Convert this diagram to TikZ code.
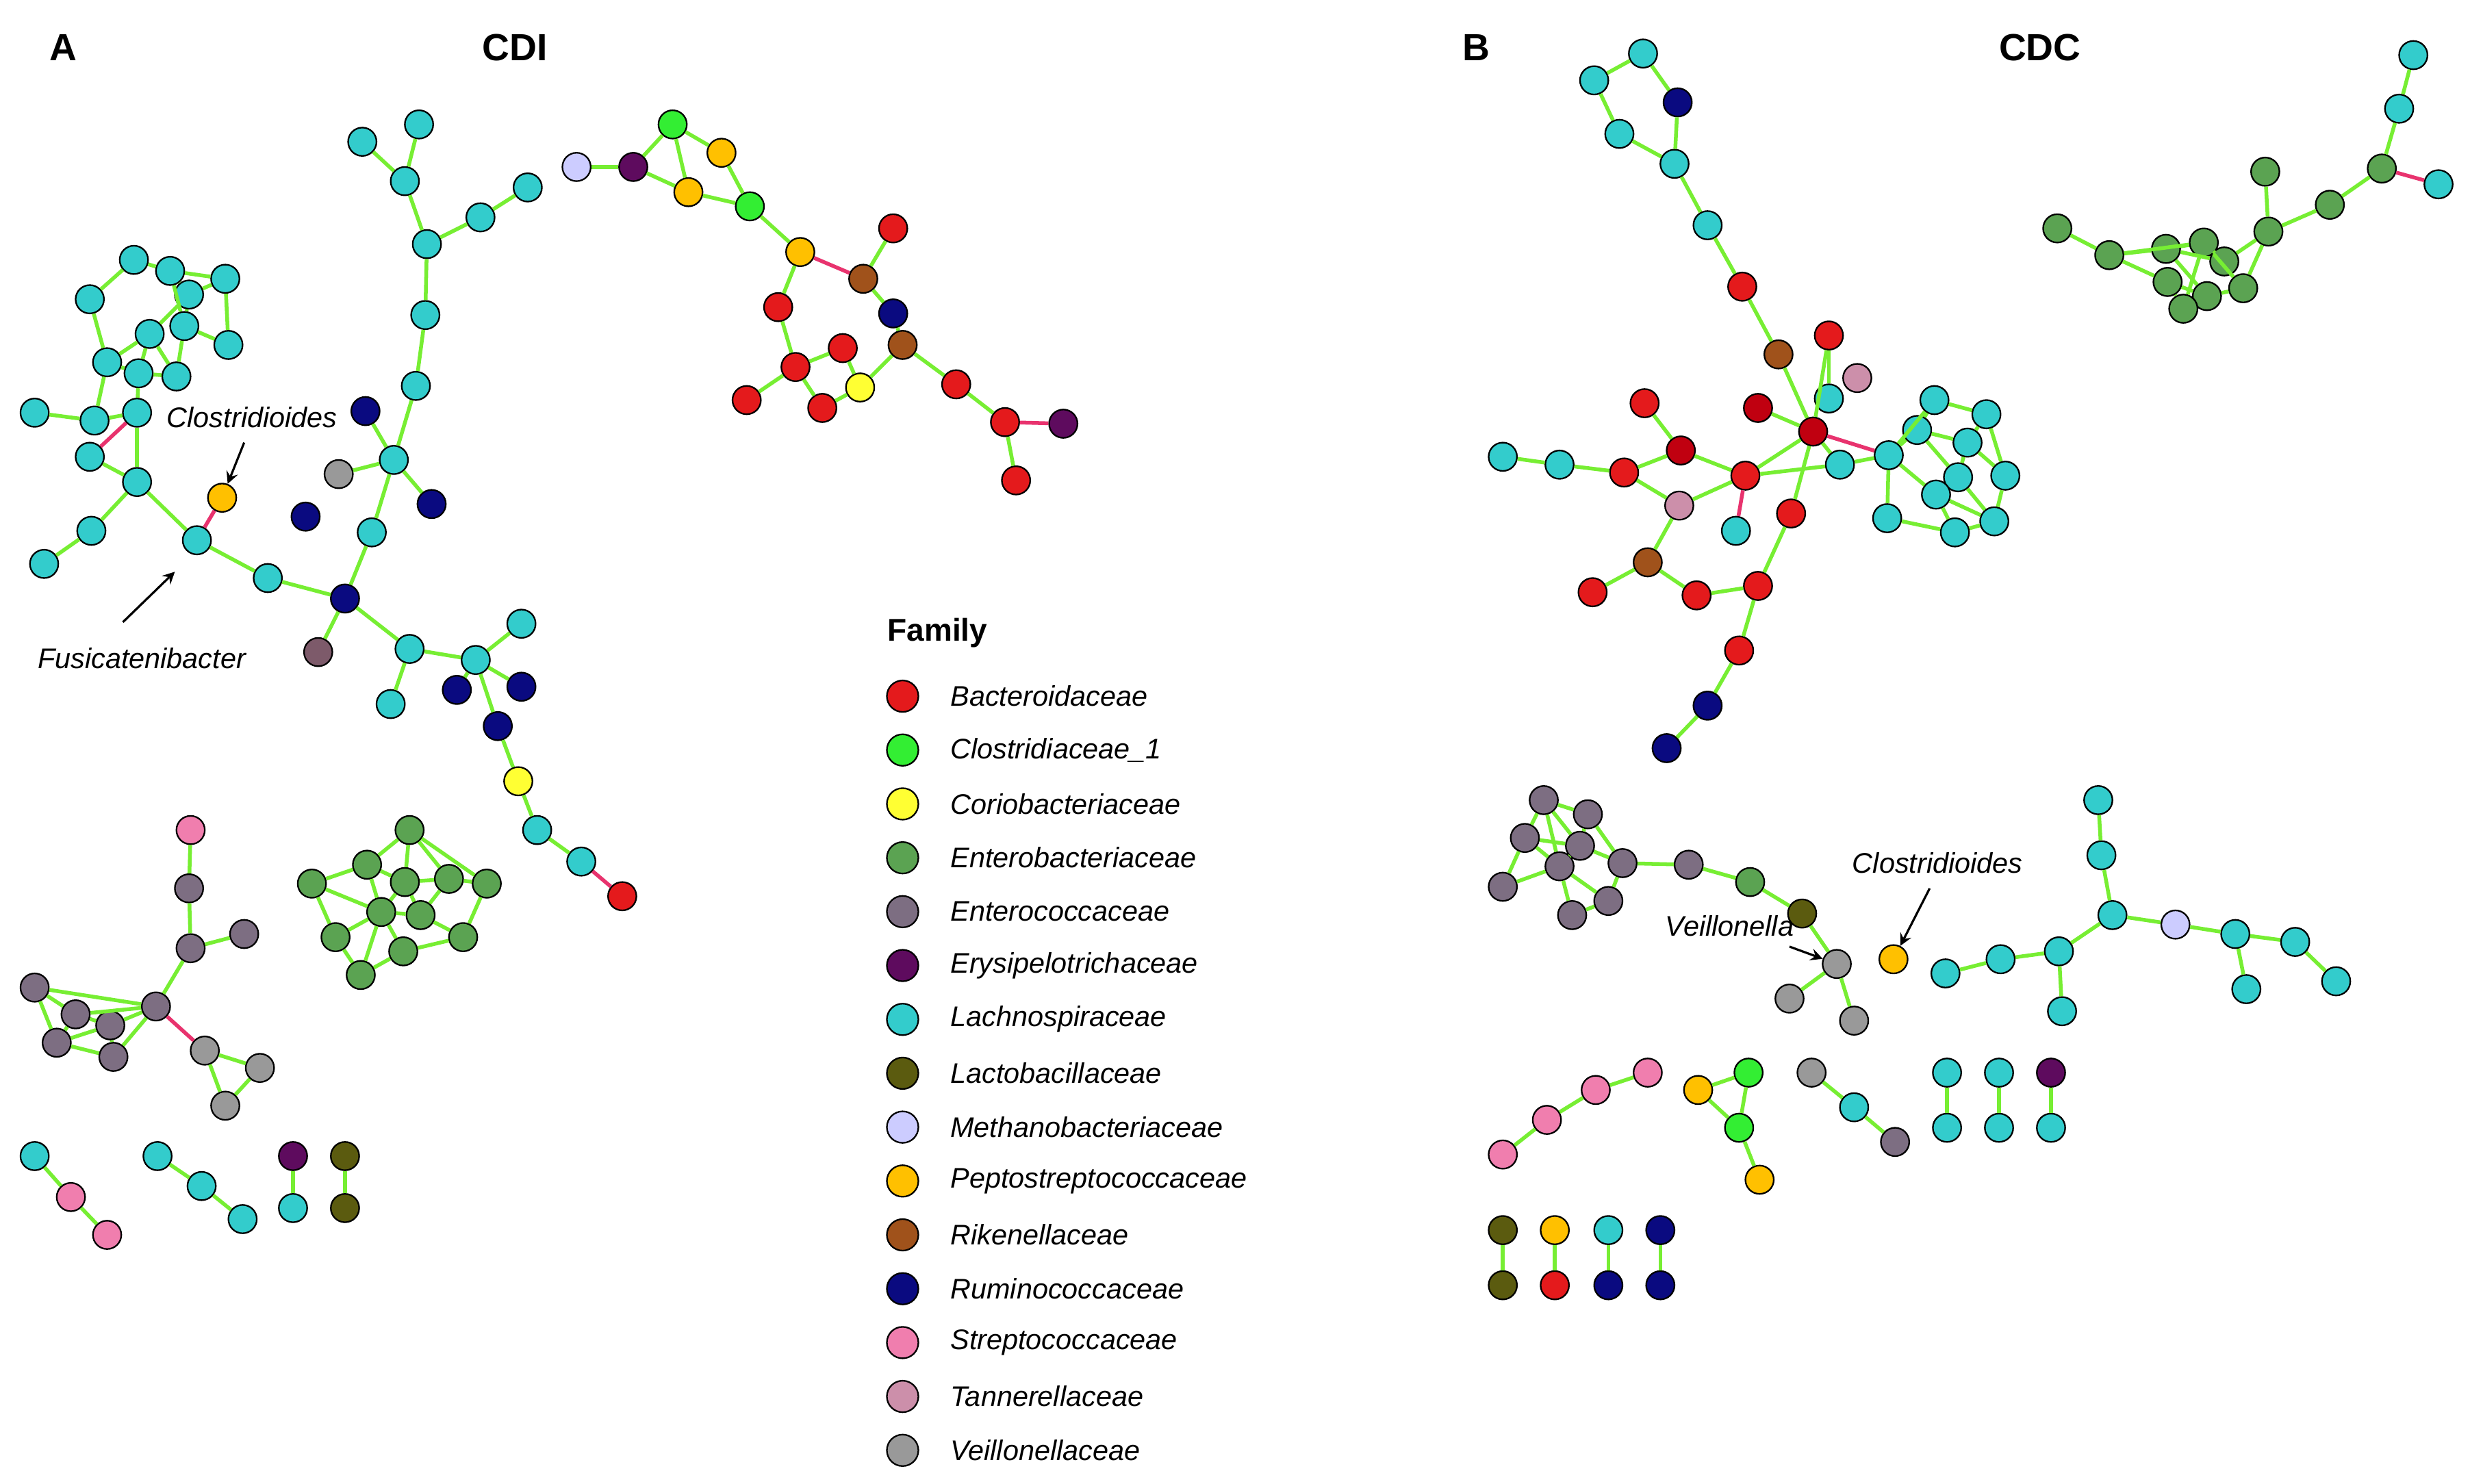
\documentclass[tikz,border=0pt]{standalone}
\usepackage{fontspec}
\setmainfont{Liberation Sans}
\definecolor{bac}{HTML}{E41A1C}\definecolor{bad}{HTML}{C00010}
\definecolor{clo}{HTML}{33EE33}
\definecolor{cor}{HTML}{FFFF33}
\definecolor{ent}{HTML}{5BA352}
\definecolor{enc}{HTML}{7D6E82}
\definecolor{ery}{HTML}{5E0B5E}
\definecolor{lac}{HTML}{33CCCC}
\definecolor{lbc}{HTML}{5B5B0F}
\definecolor{met}{HTML}{CCCCFF}
\definecolor{pep}{HTML}{FFC000}
\definecolor{rik}{HTML}{A0521B}
\definecolor{rum}{HTML}{0A0A80}
\definecolor{str}{HTML}{F07EAE}
\definecolor{tan}{HTML}{CC8FAA}
\definecolor{vei}{HTML}{999999}
\definecolor{enb}{HTML}{7D5A6A}
\definecolor{eg}{HTML}{77EE33}
\definecolor{ep}{HTML}{E8336E}
\tikzset{nd/.style={circle,draw=black,line width=0.5pt,minimum size=9pt,inner sep=0pt},
eg/.style={draw=eg,line width=1.2pt},ep/.style={draw=ep,line width=1.2pt},
lbl/.style={font=\fontsize{9}{10}\selectfont\itshape,inner sep=0pt},
ttl/.style={font=\fontsize{12}{13}\selectfont\bfseries,inner sep=0pt},
ar/.style={-stealth,line width=0.7pt}}
\newcommand\nd[4]{\node[nd,fill=#4] (#1) at (#2,-#3) {};}
\begin{document}
\begin{tikzpicture}[x=0.5pt,y=0.5pt]
\useasboundingbox (0,0) rectangle (1568,-942);
\node[ttl] (tA) at (40,-30) {A};\node[ttl] (tCDI) at (327,-30) {CDI};
\node[ttl] (tB) at (937,-30) {B};\node[ttl] (tCDC) at (1295,-30) {CDC};
% ---- Panel A
\nd{c1}{85}{165}{lac}\nd{c2}{57}{190}{lac}\nd{c3}{108}{172}{lac}\nd{c4}{143}{177}{lac}
\nd{c5}{120}{187}{lac}\nd{c6}{95}{212}{lac}\nd{c7}{117}{207}{lac}\nd{c8}{145}{219}{lac}
\nd{c9}{68}{230}{lac}\nd{c10}{88}{237}{lac}\nd{c11}{112}{239}{lac}\nd{c12}{22}{262}{lac}
\nd{c13}{60}{267}{lac}\nd{c14}{87}{262}{lac}\nd{c15}{57}{290}{lac}\nd{c16}{87}{306}{lac}
\nd{c17}{58}{337}{lac}\nd{c18}{28}{358}{lac}\nd{c19}{125}{343}{lac}\nd{pA1}{141}{316}{pep}
\nd{c20}{170}{367}{lac}\nd{r1}{219}{380}{rum}\nd{eb1}{202}{414}{enb}\nd{c21}{236}{338}{lac}
\nd{c22}{250}{292}{lac}\nd{v1}{215}{301}{vei}\nd{r2}{232}{261}{rum}\nd{r3}{274}{320}{rum}
\nd{c23}{264}{245}{lac}\nd{c24}{270}{200}{lac}\nd{c25}{271}{155}{lac}\nd{c26}{257}{115}{lac}
\nd{c27}{230}{90}{lac}\nd{c28}{266}{79}{lac}\nd{c29}{305}{138}{lac}\nd{c30}{335}{119}{lac}
\nd{r4}{194}{328}{rum}\nd{c31}{260}{412}{lac}\nd{c32}{248}{447}{lac}\nd{c33}{302}{419}{lac}
\nd{c34}{331}{396}{lac}\nd{r5}{290}{438}{rum}\nd{r6}{331}{436}{rum}\nd{r7}{316}{461}{rum}
\nd{co1}{329}{496}{cor}\nd{c35}{341}{527}{lac}\nd{c36}{369}{547}{lac}\nd{b1}{395}{569}{bac}
\foreach \a/\b in {c1/c2,c1/c3,c3/c4,c3/c5,c4/c5,c5/c6,c5/c7,c7/c8,c6/c9,c2/c9,c9/c10,c6/c10,c10/c11,c7/c11,c3/c7,c6/c11,c4/c8,
c9/c13,c12/c13,c13/c14,c10/c14,c14/c16,c15/c16,c16/c17,c17/c18,c16/c19,c19/c20,c20/r1,r1/eb1,r1/c21,c21/c22,c22/v1,c22/r2,c22/r3,c22/c23,c23/c24,c24/c25,c25/c26,c26/c27,c26/c28,c25/c29,c29/c30,
r1/c31,c31/c32,c31/c33,c33/c34,c33/r5,c33/r6,c33/r7,r7/co1,co1/c35,c35/c36}
  \draw[eg] (\a)--(\b);
\draw[ep] (c14)--(c15);\draw[ep] (c19)--(pA1);\draw[ep] (c36)--(b1);
\nd{m1}{366}{106}{met}\nd{e1}{402}{106}{ery}\nd{k1}{427}{79}{clo}\nd{p1}{458}{97}{pep}
\nd{p2}{437}{122}{pep}\nd{k2}{476}{131}{clo}\nd{p3}{508}{160}{pep}\nd{rk1}{548}{177}{rik}
\nd{b2}{567}{145}{bac}\nd{r8}{567}{199}{rum}\nd{b3}{494}{195}{bac}\nd{b4}{505}{233}{bac}
\nd{b5}{535}{221}{bac}\nd{co2}{546}{246}{cor}\nd{rk2}{573}{219}{rik}\nd{b6}{522}{259}{bac}
\nd{b7}{474}{254}{bac}\nd{b8}{607}{244}{bac}\nd{b9}{638}{268}{bac}\nd{e2}{675}{269}{ery}\nd{b10}{645}{305}{bac}
\foreach \a/\b in {m1/e1,e1/k1,e1/p2,k1/p1,k1/p2,p1/k2,p2/k2,k2/p3,p3/b3,b2/rk1,rk1/r8,b3/b4,b4/b5,b5/co2,co2/rk2,rk2/r8,rk2/b8,b8/b9,b9/b10,b4/b7,b4/b6,b6/co2}
  \draw[eg] (\a)--(\b);
\draw[ep] (p3)--(rk1);\draw[ep] (b9)--(e2);
\nd{s1}{121}{527}{str}\nd{n1}{120}{564}{enc}\nd{n2}{121}{602}{enc}\nd{n3}{155}{593}{enc}
\nd{n4}{99}{639}{enc}\nd{n5}{22}{627}{enc}\nd{n6}{48}{644}{enc}\nd{n7}{70}{651}{enc}
\nd{n8}{36}{662}{enc}\nd{n9}{72}{671}{enc}\nd{v2}{130}{667}{vei}\nd{v3}{165}{678}{vei}\nd{v4}{143}{702}{vei}
\foreach \a/\b in {s1/n1,n1/n2,n2/n3,n2/n4,n4/n5,n4/n6,n4/n7,n4/n9,n5/n6,n5/n8,n6/n7,n8/n7,n8/n9,n7/n9,n6/n8,v2/v3,v2/v4,v3/v4}
  \draw[eg] (\a)--(\b);
\draw[ep] (n4)--(v2);
\nd{g1}{260}{527}{ent}\nd{g2}{233}{549}{ent}\nd{g3}{198}{561}{ent}\nd{g4}{257}{560}{ent}
\nd{g5}{285}{558}{ent}\nd{g6}{309}{561}{ent}\nd{g7}{242}{579}{ent}\nd{g8}{267}{581}{ent}
\nd{g9}{213}{595}{ent}\nd{g10}{294}{595}{ent}\nd{g11}{256}{604}{ent}\nd{g12}{229}{619}{ent}
\foreach \a/\b in {g1/g2,g1/g4,g1/g5,g2/g3,g2/g7,g2/g4,g3/g9,g3/g7,g4/g8,g4/g5,g5/g6,g5/g8,g6/g10,g7/g8,g7/g11,g8/g10,g9/g12,g9/g7,g10/g11,g11/g12,g12/g7,g4/g7,g1/g6}
  \draw[eg] (\a)--(\b);
\nd{x1}{22}{734}{lac}\nd{x2}{45}{760}{str}\nd{x3}{68}{784}{str}
\nd{x4}{100}{734}{lac}\nd{x5}{128}{753}{lac}\nd{x6}{154}{774}{lac}
\nd{x7}{186}{734}{ery}\nd{x8}{186}{767}{lac}\nd{x9}{219}{734}{lbc}\nd{x10}{219}{767}{lbc}
\foreach \a/\b in {x1/x2,x2/x3,x4/x5,x5/x6,x7/x8,x9/x10} \draw[eg] (\a)--(\b);
\node[lbl] (lC1) at (160,-265) {Clostridioides};
\coordinate (aC1) at (155,-281);\draw[ar] (aC1)--(pA1);
\node[lbl] (lF) at (90,-418) {Fusicatenibacter};
\coordinate (aF) at (78,-395);\coordinate (aF2) at (111,-363);\draw[ar] (aF)--(aF2);
% ---- Legend
\node[font=\fontsize{10}{11}\selectfont\bfseries,anchor=west,inner sep=0pt] (fam) at (563,-402) {Family};
\foreach \c/\t [count=\i from 0] in {bac/Bacteroidaceae,clo/Clostridiaceae\_1,cor/Coriobacteriaceae,ent/Enterobacteriaceae,enc/Enterococcaceae,ery/Erysipelotrichaceae,lac/Lachnospiraceae,lbc/Lactobacillaceae,met/Methanobacteriaceae,pep/Peptostreptococcaceae,rik/Rikenellaceae,rum/Ruminococcaceae,str/Streptococcaceae,tan/Tannerellaceae,vei/Veillonellaceae}{
  \node[nd,fill=\c,minimum size=10pt] (L\i) at (573,-442-34.2*\i) {};
  \node[lbl,anchor=west] (T\i) at (603,-442-34.2*\i) {\t};}
% ---- Panel B
\nd{d1}{1012}{51}{lac}\nd{d2}{1043}{34}{lac}\nd{d3}{1028}{85}{lac}\nd{d4}{1063}{104}{lac}\nd{R1}{1065}{65}{rum}
\nd{d5}{1084}{143}{lac}\nd{B1}{1106}{182}{bac}\nd{K1}{1129}{225}{rik}\nd{B2}{1161}{213}{bac}
\nd{T1}{1179}{240}{tan}\nd{d6}{1161}{253}{lac}\nd{B3}{1044}{256}{bac}\nd{B4}{1067}{286}{bad}
\nd{B5}{1116}{259}{bad}\nd{B6}{1151}{274}{bad}\nd{B7}{1031}{300}{bac}\nd{B8}{1108}{302}{bac}
\nd{T2}{1066}{321}{tan}\nd{d7}{1102}{337}{lac}\nd{B9}{1137}{326}{bac}\nd{K2}{1046}{357}{rik}
\nd{B10}{1011}{376}{bac}\nd{B11}{1077}{378}{bac}\nd{B12}{1116}{372}{bac}\nd{B13}{1104}{413}{bac}
\nd{R2}{1084}{448}{rum}\nd{R3}{1058}{475}{rum}\nd{d8}{954}{290}{lac}\nd{d9}{990}{295}{lac}
\nd{f1}{1168}{295}{lac}\nd{f2}{1199}{289}{lac}\nd{f3}{1228}{254}{lac}\nd{f4}{1261}{263}{lac}
\nd{f5}{1217}{273}{lac}\nd{f6}{1249}{281}{lac}\nd{f7}{1273}{302}{lac}\nd{f8}{1243}{303}{lac}
\nd{f9}{1229}{314}{lac}\nd{f10}{1266}{331}{lac}\nd{f11}{1241}{338}{lac}\nd{f12}{1198}{329}{lac}
\foreach \a/\b in {d1/d2,d2/R1,d1/d3,d3/d4,d4/R1,d4/d5,d5/B1,B1/K1,K1/B6,B6/B2,B2/d6,B6/B5,B6/B8,B6/B9,B9/B12,B12/B13,B13/R2,R2/R3,
B8/B4,B4/B3,B4/B7,B7/d9,d9/d8,B7/T2,B8/T2,T2/K2,K2/B10,K2/B11,B11/B12,B8/f1,B6/f1,f1/f2,f2/f3,f2/f5,f2/f12,f2/f9,f3/f4,f5/f6,f4/f7,f6/f7,f6/f8,f9/f11,f8/f10,f7/f10,f12/f11,f11/f10,f5/f8,f9/f10,f3/f5,f4/f6}
  \draw[eg] (\a)--(\b);
\draw[ep] (B6)--(f2);\draw[ep] (B8)--(d7);
\nd{G1}{1306}{145}{ent}\nd{G2}{1339}{162}{ent}\nd{G3}{1375}{158}{ent}\nd{G4}{1399}{154}{ent}
\nd{G5}{1412}{166}{ent}\nd{G6}{1376}{179}{ent}\nd{G7}{1401}{188}{ent}\nd{G8}{1386}{196}{ent}
\nd{G9}{1424}{183}{ent}\nd{G10}{1440}{147}{ent}\nd{G11}{1438}{109}{ent}\nd{G12}{1479}{130}{ent}
\nd{G13}{1512}{107}{ent}\nd{h1}{1523}{69}{lac}\nd{h2}{1532}{35}{lac}\nd{h3}{1548}{117}{lac}
\foreach \a/\b in {G1/G2,G2/G3,G2/G4,G2/G6,G3/G4,G3/G5,G3/G7,G4/G8,G4/G9,G6/G7,G7/G9,G9/G10,G5/G10,G10/G11,G10/G12,G12/G13,G13/h1,h1/h2,G6/G8,G4/G5}
  \draw[eg] (\a)--(\b);
\draw[ep] (G13)--(h3);
\nd{N1}{980}{508}{enc}\nd{N2}{1008}{517}{enc}\nd{N3}{968}{532}{enc}\nd{N4}{1003}{537}{enc}
\nd{N5}{990}{550}{enc}\nd{N6}{1030}{548}{enc}\nd{N7}{954}{563}{enc}\nd{N8}{1021}{572}{enc}
\nd{N9}{998}{581}{enc}\nd{N10}{1072}{549}{enc}\nd{G14}{1111}{560}{ent}\nd{Y1}{1144}{580}{lbc}
\nd{V1}{1166}{612}{vei}\nd{V2}{1136}{634}{vei}\nd{V3}{1177}{648}{vei}\nd{P1}{1202}{609}{pep}
\foreach \a/\b in {N1/N2,N1/N3,N1/N4,N1/N5,N2/N4,N2/N6,N3/N5,N3/N7,N4/N6,N4/N5,N5/N7,N5/N8,N5/N9,N6/N8,N8/N9,N3/N4,N6/N10,N10/G14,G14/Y1,Y1/V1,V1/V2,V1/V3}
  \draw[eg] (\a)--(\b);
\nd{k1}{1235}{618}{lac}\nd{k2}{1270}{609}{lac}\nd{k3}{1307}{604}{lac}\nd{k4}{1309}{642}{lac}
\nd{k5}{1341}{581}{lac}\nd{k6}{1334}{543}{lac}\nd{k7}{1332}{508}{lac}\nd{M1}{1381}{587}{met}
\nd{k8}{1419}{593}{lac}\nd{k9}{1426}{628}{lac}\nd{k10}{1457}{598}{lac}\nd{k11}{1483}{623}{lac}
\foreach \a/\b in {k1/k2,k2/k3,k3/k5,k3/k4,k5/k6,k6/k7,k5/M1,M1/k8,k8/k10,k10/k11,k8/k9}
  \draw[eg] (\a)--(\b);
\node[lbl] (lC2) at (1230,-548) {Clostridioides};
\coordinate (aC2) at (1225,-564);\draw[ar] (aC2)--(P1);
\node[lbl] (lV) at (1098,-588) {Veillonella};
\coordinate (aV) at (1136,-601);\draw[ar] (aV)--(V1);
\nd{S1}{954}{733}{str}\nd{S2}{982}{711}{str}\nd{S3}{1013}{692}{str}\nd{S4}{1046}{681}{str}
\nd{P2}{1078}{692}{pep}\nd{K3}{1110}{681}{clo}\nd{K4}{1104}{716}{clo}\nd{P3}{1117}{749}{pep}
\nd{V4}{1150}{681}{vei}\nd{l1}{1177}{703}{lac}\nd{N11}{1203}{725}{enc}
\nd{l2}{1236}{681}{lac}\nd{l3}{1236}{716}{lac}\nd{l4}{1269}{681}{lac}\nd{l5}{1269}{716}{lac}
\nd{E1}{1302}{681}{ery}\nd{l6}{1302}{716}{lac}
\nd{Y2}{954}{781}{lbc}\nd{Y3}{954}{816}{lbc}\nd{P4}{987}{781}{pep}\nd{B14}{987}{816}{bac}
\nd{l7}{1021}{781}{lac}\nd{R4}{1021}{816}{rum}\nd{R5}{1054}{781}{rum}\nd{R6}{1054}{816}{rum}
\foreach \a/\b in {S1/S2,S2/S3,S3/S4,P2/K3,P2/K4,K3/K4,K4/P3,V4/l1,l1/N11,l2/l3,l4/l5,E1/l6,Y2/Y3,P4/B14,l7/R4,R5/R6}
  \draw[eg] (\a)--(\b);
\end{tikzpicture}
\end{document}
